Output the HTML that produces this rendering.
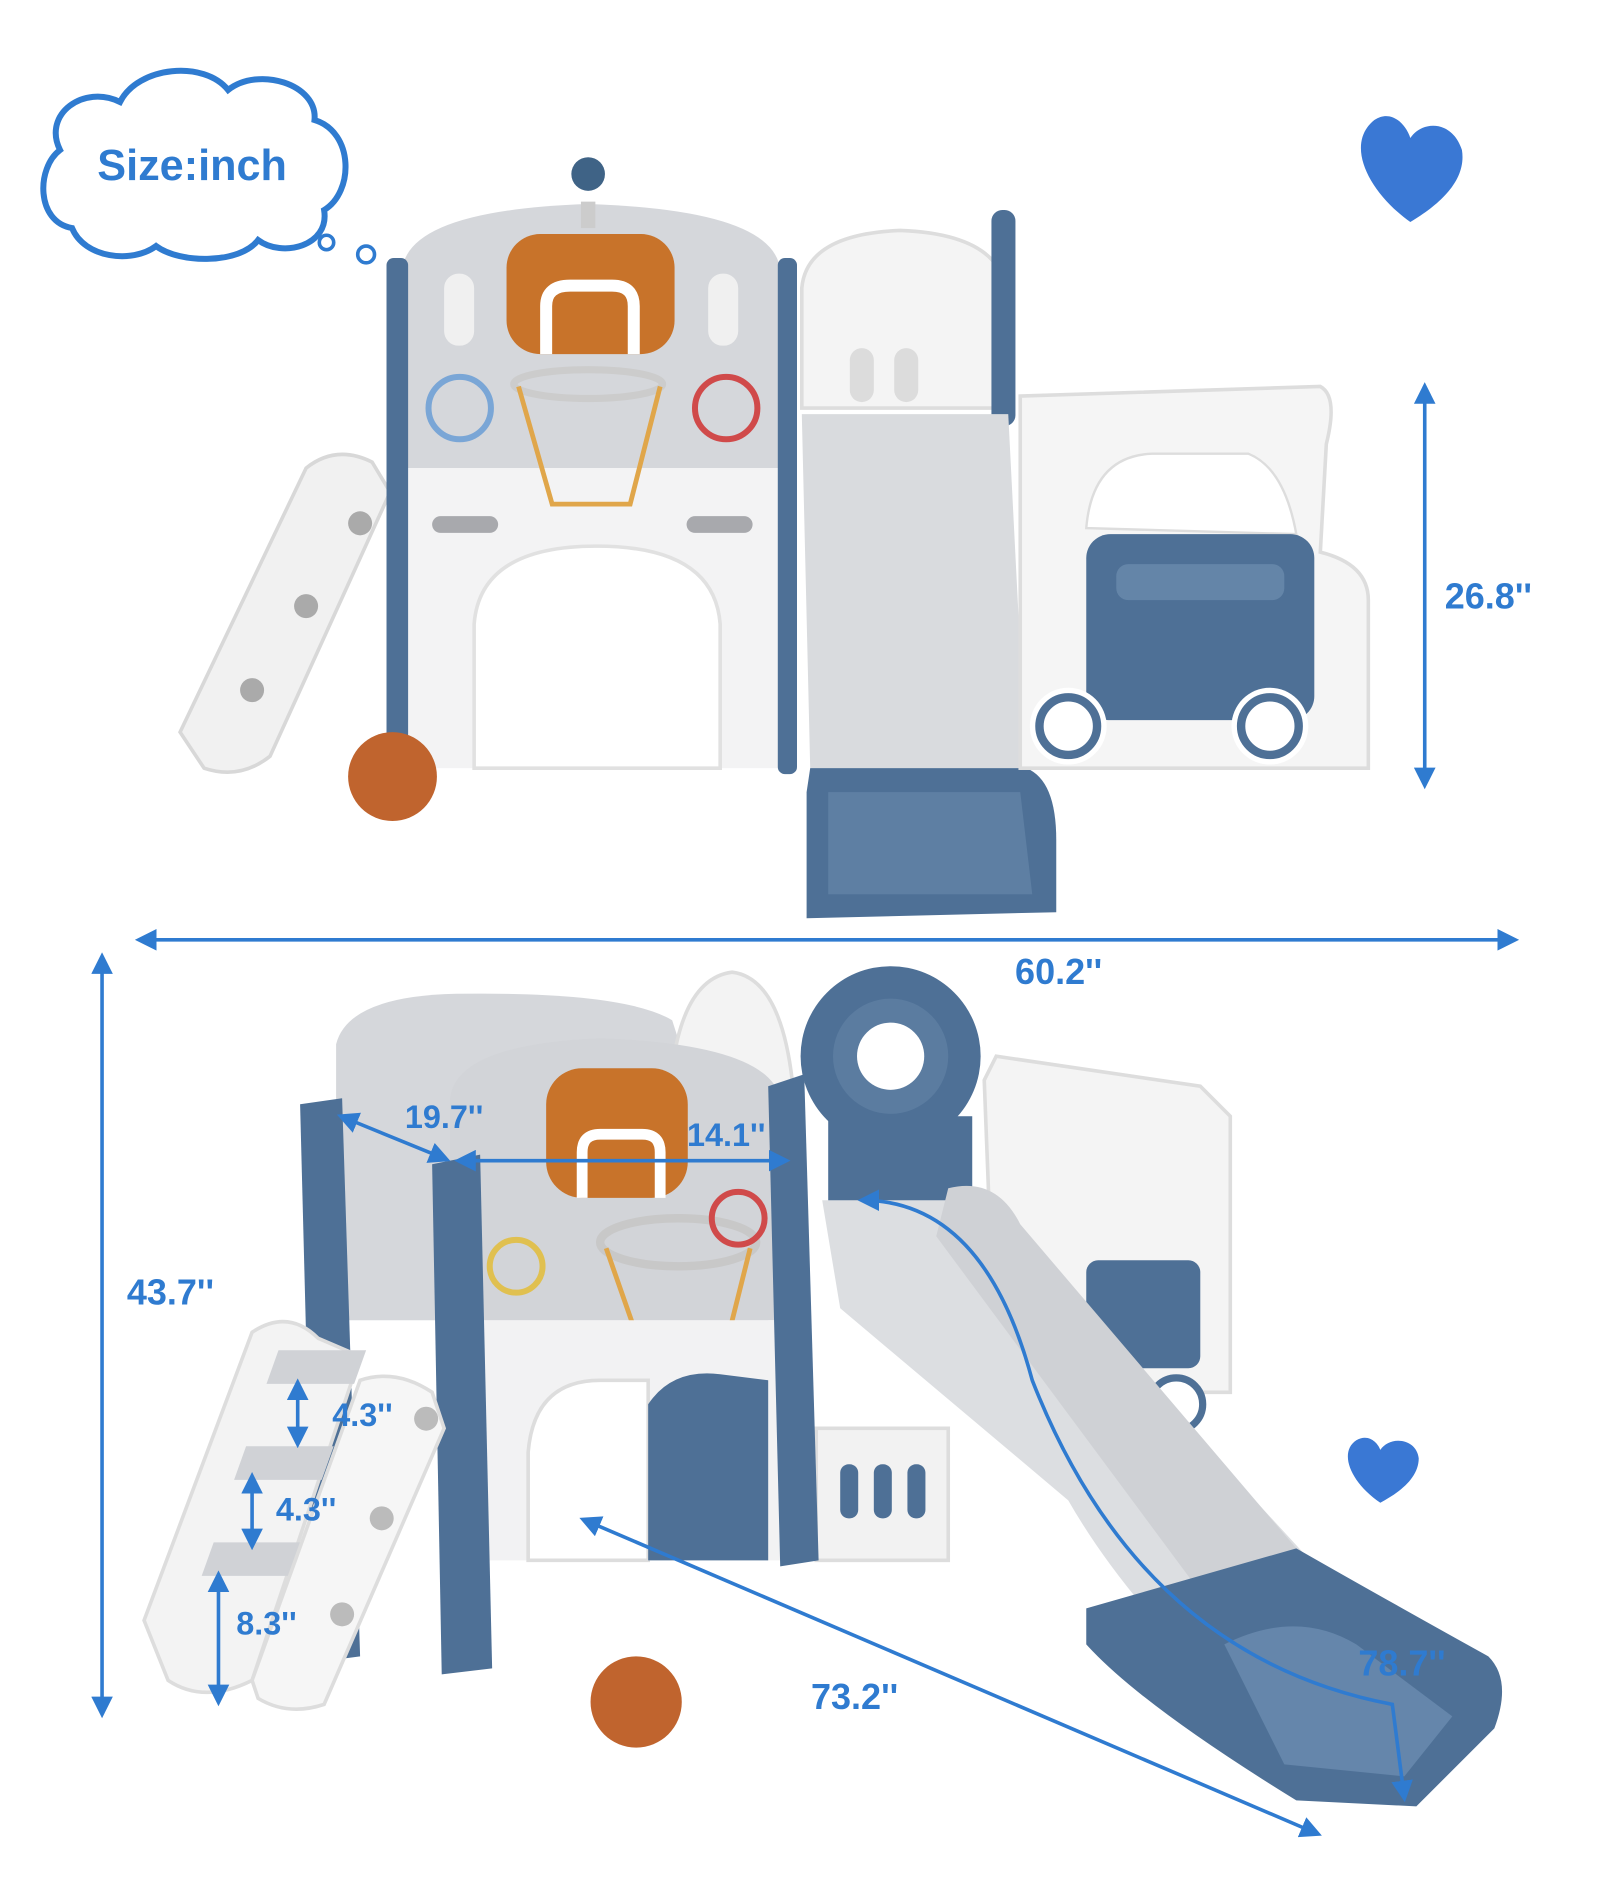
<!DOCTYPE html>
<html><head><meta charset="utf-8">
<style>
html,body{margin:0;padding:0;background:#fff;}
svg{display:block}
.t{font-family:"Liberation Sans",sans-serif;font-weight:bold;fill:#2f7bd0;}
</style></head>
<body>
<svg width="1600" height="1900" viewBox="0 0 1333 1583" xmlns="http://www.w3.org/2000/svg">
<defs>
<marker id="ah" viewBox="0 0 10 10" refX="8" refY="5" markerWidth="6" markerHeight="6" orient="auto-start-reverse"><path d="M0,0 L10,5 L0,10 z" fill="#2f7bd0"/></marker>
</defs>
<rect width="1333" height="1583" fill="#fff"/>

<path d="M60,190 C30,185 30,140 50,125 C35,95 70,70 100,85 C115,55 170,50 190,75 C215,55 265,70 262,100 C295,110 295,160 270,175 C275,205 235,215 215,200 C200,220 150,220 130,205 C110,220 70,215 60,190 z" fill="none" stroke="#2f7bd0" stroke-width="5"/>
<text x="160" y="150" text-anchor="middle" class="t" font-size="36">Size:inch</text>
<circle cx="272" cy="202" r="6" fill="none" stroke="#2f7bd0" stroke-width="3"/>
<circle cx="305" cy="212" r="7" fill="none" stroke="#2f7bd0" stroke-width="3"/>
<path d="M1175,185 C1140,160 1120,120 1145,100 C1160,90 1172,105 1175,115 C1185,100 1210,100 1218,125 C1222,150 1200,170 1175,185 z" fill="#3a78d4"/>

<path d="M150,610 L255,390 Q280,370 310,385 L325,410 L225,630 Q200,650 170,640 z" fill="#f1f1f1" stroke="#d8d8d8" stroke-width="3"/>
<circle cx="300" cy="436" r="10" fill="#aaa"/><circle cx="255" cy="505" r="10" fill="#aaa"/><circle cx="210" cy="575" r="10" fill="#aaa"/>
<path d="M335,390 L335,225 Q340,175 490,170 Q645,175 650,225 L650,390 z" fill="#d5d7db"/>
<rect x="340" y="390" width="310" height="250" fill="#f3f3f4"/>
<path d="M395,640 L395,520 Q400,455 497,455 Q595,455 600,520 L600,640 z" fill="#fff" stroke="#e1e1e1" stroke-width="3"/>
<rect x="322" y="215" width="18" height="430" rx="6" fill="#4e7096"/>
<rect x="648" y="215" width="16" height="430" rx="6" fill="#4e7096"/>
<rect x="360" y="430" width="55" height="14" rx="7" fill="#a8a9ad"/>
<rect x="572" y="430" width="55" height="14" rx="7" fill="#a8a9ad"/>
<rect x="370" y="228" width="25" height="60" rx="12" fill="#f0f0f0"/>
<rect x="590" y="228" width="25" height="60" rx="12" fill="#f0f0f0"/>
<rect x="422" y="195" width="140" height="100" rx="28" fill="#c8732a"/>
<path d="M455,295 L455,255 Q455,238 475,238 L510,238 Q528,238 528,255 L528,295" fill="none" stroke="#fff" stroke-width="10"/>
<ellipse cx="490" cy="320" rx="62" ry="12" fill="none" stroke="#ccc" stroke-width="6"/>
<path d="M432,322 L460,420 L525,420 L550,322" fill="none" stroke="#e0a64a" stroke-width="4"/>
<circle cx="383" cy="340" r="26" fill="none" stroke="#7aa6d6" stroke-width="5"/>
<circle cx="605" cy="340" r="26" fill="none" stroke="#d04a4a" stroke-width="5"/>
<rect x="484" y="168" width="12" height="22" fill="#ccc"/>
<circle cx="490" cy="145" r="14" fill="#3f6386"/>
<circle cx="327" cy="647" r="37" fill="#c0642e"/>
<path d="M668,340 L668,240 Q672,195 750,192 Q830,195 838,240 L838,340 z" fill="#f4f4f4" stroke="#ddd" stroke-width="3"/>
<rect x="708" y="290" width="20" height="45" rx="10" fill="#dcdcdc"/><rect x="745" y="290" width="20" height="45" rx="10" fill="#dcdcdc"/>
<rect x="826" y="175" width="20" height="180" rx="9" fill="#4e7096"/>
<path d="M668,345 L840,345 L855,640 L675,640 z" fill="#d9dbde"/>
<path d="M675,640 L855,640 Q880,650 880,700 L880,760 L672,765 L672,660 z" fill="#4e7096"/>
<path d="M690,660 L850,660 L860,745 L690,745 z" fill="#5e7fa3"/>
<path d="M850,330 L1100,322 Q1115,330 1105,370 L1100,460 Q1140,470 1140,500 L1140,640 L850,640 z" fill="#f5f5f5" stroke="#ddd" stroke-width="3"/>
<path d="M905,440 Q910,380 960,378 L1040,378 Q1070,390 1080,445 z" fill="#fff" stroke="#ddd" stroke-width="2"/>
<rect x="905" y="445" width="190" height="155" rx="20" fill="#4e7096"/>
<rect x="930" y="470" width="140" height="30" rx="10" fill="#6485a8"/>
<circle cx="890" cy="605" r="32" fill="#fff"/><circle cx="890" cy="605" r="24" fill="none" stroke="#4e7096" stroke-width="7"/>
<circle cx="1058" cy="605" r="32" fill="#fff"/><circle cx="1058" cy="605" r="24" fill="none" stroke="#4e7096" stroke-width="7"/>
<line x1="1187" y1="322" x2="1187" y2="654" stroke="#2f7bd0" stroke-width="3" marker-start="url(#ah)" marker-end="url(#ah)"/>
<text x="1240" y="507" text-anchor="middle" class="t" font-size="30">26.8''</text>
<line x1="116" y1="783" x2="1262" y2="783" stroke="#2f7bd0" stroke-width="3" marker-start="url(#ah)" marker-end="url(#ah)"/>
<text x="882" y="820" text-anchor="middle" class="t" font-size="30">60.2''</text>

<line x1="85" y1="797" x2="85" y2="1428" stroke="#2f7bd0" stroke-width="3" marker-start="url(#ah)" marker-end="url(#ah)"/>
<text x="142" y="1087" text-anchor="middle" class="t" font-size="30">43.7''</text>
<path d="M280,1100 L280,870 Q290,830 380,828 Q520,826 560,850 L640,1100 z" fill="#d5d7db"/>
<path d="M560,890 Q570,815 610,810 Q650,815 660,900 L660,1000 L560,1000 z" fill="#f3f3f3" stroke="#ddd" stroke-width="3"/>
<path d="M820,900 L830,880 L1000,905 L1025,930 L1025,1160 L830,1160 z" fill="#f4f4f4" stroke="#ddd" stroke-width="3"/>
<rect x="905" y="1050" width="95" height="90" rx="10" fill="#4e7096"/>
<circle cx="980" cy="1170" r="22" fill="#fff" stroke="#4e7096" stroke-width="6"/>
<circle cx="742" cy="880" r="75" fill="#4e7096"/>
<circle cx="742" cy="880" r="48" fill="#5b7ca0"/>
<circle cx="742" cy="880" r="28" fill="#fff"/>
<rect x="690" y="930" width="120" height="90" fill="#4e7096"/>
<path d="M375,970 L375,915 Q380,870 500,865 Q640,870 650,915 L650,1100 L375,1100 z" fill="#d2d4d8"/>
<rect x="455" y="890" width="118" height="108" rx="30" fill="#c8732a"/>
<path d="M485,998 L485,960 Q485,945 500,945 L535,945 Q550,945 550,960 L550,998" fill="none" stroke="#fff" stroke-width="9"/>
<ellipse cx="565" cy="1035" rx="65" ry="20" fill="none" stroke="#c8c8c8" stroke-width="7"/>
<path d="M505,1040 L540,1140 L600,1140 L625,1040" fill="none" stroke="#e0a64a" stroke-width="4"/>
<circle cx="430" cy="1055" r="22" fill="none" stroke="#e0c050" stroke-width="5"/>
<circle cx="615" cy="1015" r="22" fill="none" stroke="#d04a4a" stroke-width="5"/>
<path d="M390,1100 L650,1100 L650,1300 L390,1300 z" fill="#f2f2f3"/>
<path d="M440,1300 L440,1210 Q445,1150 500,1150 L540,1150 L540,1300 z" fill="#fff" stroke="#ddd" stroke-width="3"/>
<path d="M540,1300 L540,1170 Q560,1140 600,1145 L640,1150 L640,1300 z" fill="#4e7096"/>
<rect x="680" y="1190" width="110" height="110" fill="#f2f2f2" stroke="#ddd" stroke-width="3"/>
<rect x="700" y="1220" width="15" height="45" rx="7" fill="#4e7096"/><rect x="728" y="1220" width="15" height="45" rx="7" fill="#4e7096"/><rect x="756" y="1220" width="15" height="45" rx="7" fill="#4e7096"/>
<path d="M250,920 L285,915 L300,1380 L262,1385 z" fill="#4e7096"/>
<path d="M360,970 L400,962 L410,1390 L368,1395 z" fill="#4e7096"/>
<path d="M640,905 L670,895 L682,1300 L650,1305 z" fill="#4e7096"/>
<path d="M120,1350 L210,1110 Q240,1090 265,1115 L300,1130 L210,1400 Q170,1420 140,1400 z" fill="#f3f3f3" stroke="#ddd" stroke-width="3"/>
<polygon points="232,1125 305,1125 295,1153 222,1153" fill="#d0d2d6"/>
<polygon points="205,1205 278,1205 268,1233 195,1233" fill="#d0d2d6"/>
<polygon points="178,1285 251,1285 241,1313 168,1313" fill="#d0d2d6"/>
<path d="M210,1400 L300,1150 Q330,1140 360,1160 L370,1190 L270,1420 Q240,1430 215,1415 z" fill="#f6f6f6" stroke="#ddd" stroke-width="3"/>
<circle cx="355" cy="1182" r="10" fill="#bbb"/><circle cx="318" cy="1265" r="10" fill="#bbb"/><circle cx="285" cy="1345" r="10" fill="#bbb"/>
<path d="M685,1000 L790,1000 Q840,1010 880,1070 L1110,1320 L1000,1390 Q930,1320 890,1250 L700,1090 z" fill="#dcdee1"/>
<path d="M790,990 Q830,980 850,1020 L1080,1290 L1010,1340 L780,1030 z" fill="#cfd1d5"/>
<path d="M905,1340 L1080,1290 Q1150,1330 1240,1380 Q1260,1400 1245,1440 L1180,1505 L1080,1500 Q950,1420 905,1370 z" fill="#4e7096"/>
<path d="M1020,1370 Q1080,1340 1130,1370 L1210,1430 L1170,1480 L1070,1470 z" fill="#6586ab"/>
<circle cx="530" cy="1418" r="38" fill="#c0642e"/>
<path d="M1150,1252 C1125,1235 1115,1210 1130,1200 C1140,1194 1148,1202 1150,1208 C1158,1196 1180,1198 1182,1215 C1182,1232 1165,1244 1150,1252 z" fill="#3a78d4"/>
<line x1="284" y1="930" x2="372" y2="966" stroke="#2f7bd0" stroke-width="3" marker-start="url(#ah)" marker-end="url(#ah)"/>
<line x1="382" y1="967" x2="655" y2="967" stroke="#2f7bd0" stroke-width="3" marker-start="url(#ah)" marker-end="url(#ah)"/>
<text x="370" y="940" text-anchor="middle" class="t" font-size="27">19.7''</text>
<text x="605" y="955" text-anchor="middle" class="t" font-size="27">14.1''</text>
<line x1="248" y1="1152" x2="248" y2="1203" stroke="#2f7bd0" stroke-width="3" marker-start="url(#ah)" marker-end="url(#ah)"/>
<line x1="210" y1="1230" x2="210" y2="1288" stroke="#2f7bd0" stroke-width="3" marker-start="url(#ah)" marker-end="url(#ah)"/>
<line x1="182" y1="1312" x2="182" y2="1418" stroke="#2f7bd0" stroke-width="3" marker-start="url(#ah)" marker-end="url(#ah)"/>
<text x="302" y="1188" text-anchor="middle" class="t" font-size="27">4.3''</text>
<text x="255" y="1267" text-anchor="middle" class="t" font-size="27">4.3''</text>
<text x="222" y="1362" text-anchor="middle" class="t" font-size="27">8.3''</text>
<line x1="486" y1="1266" x2="1098" y2="1528" stroke="#2f7bd0" stroke-width="3" marker-start="url(#ah)" marker-end="url(#ah)"/>
<text x="712" y="1424" text-anchor="middle" class="t" font-size="30">73.2''</text>
<path d="M718,1000 Q820,1000 860,1150 Q950,1380 1160,1420 L1170,1498" fill="none" stroke="#2f7bd0" stroke-width="3" marker-start="url(#ah)" marker-end="url(#ah)"/>
<text x="1168" y="1396" text-anchor="middle" class="t" font-size="30">78.7''</text>
</svg>
</body></html>
